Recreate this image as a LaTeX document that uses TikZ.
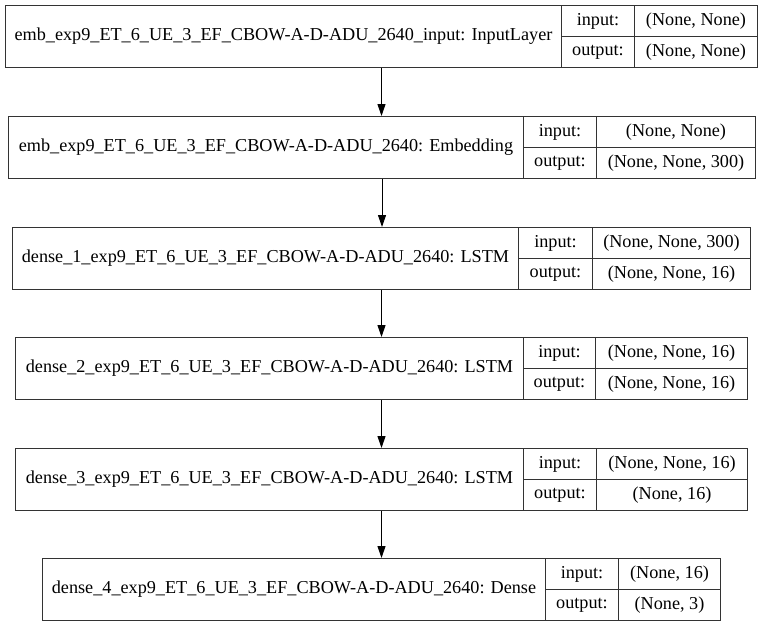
\documentclass[tikz,border=0pt]{standalone}
\usepackage{fontspec}
\setmainfont{Liberation Serif}
\usetikzlibrary{arrows.meta}
\definecolor{edge}{HTML}{333333}
\tikzset{
  frame/.style={draw=edge, line width=1pt, inner sep=0pt, anchor=north west},
  cell/.style={draw=edge, line width=1pt, inner sep=0pt, anchor=north west,
    font=\fontsize{18.2pt}{20pt}\selectfont, text=black},
  flow/.style={draw=black, line width=1pt, -{Triangle[length=12pt,width=8pt]}},
}
% one layer row: name, left, divider 1, divider 2, right, top, title, input shape, output shape
\newcommand\layer[9]{%
  \pgfmathsetmacro\wa{#3-#2}%
  \pgfmathsetmacro\wb{#4-#3}%
  \pgfmathsetmacro\wc{#5-#4}%
  \pgfmathsetmacro\wall{#5-#2}%
  \pgfmathsetmacro\ymid{#6+31}%
  \node[frame, minimum width=\wall pt, minimum height=62pt] (#1) at (#2pt,-#6pt) {};
  \node[cell, minimum width=\wa pt, minimum height=62pt] (#1-name) at (#2pt,-#6pt) {#7};
  \node[cell, minimum width=\wb pt, minimum height=31pt] (#1-inl) at (#3pt,-#6pt) {input:};
  \node[cell, minimum width=\wc pt, minimum height=31pt] (#1-inv) at (#4pt,-#6pt) {#8};
  \node[cell, minimum width=\wb pt, minimum height=31pt] (#1-outl) at (#3pt,-\ymid pt) {output:};
  \node[cell, minimum width=\wc pt, minimum height=31pt] (#1-outv) at (#4pt,-\ymid pt) {#9};
}
\begin{document}
\begin{tikzpicture}
\useasboundingbox[fill=white] (0pt,0pt) rectangle (763pt,-627pt);
\layer{L1}{5}{561}{634}{757}{5}{emb\_exp9\_ET\_6\_UE\_3\_EF\_CBOW-A-D-ADU\_2640\_input: InputLayer}{(None, None)}{(None, None)}
\layer{L2}{8}{523}{596}{755}{116}{emb\_exp9\_ET\_6\_UE\_3\_EF\_CBOW-A-D-ADU\_2640: Embedding}{(None, None)}{(None, None, 300)}
\layer{L3}{12}{518}{592}{750}{227}{dense\_1\_exp9\_ET\_6\_UE\_3\_EF\_CBOW-A-D-ADU\_2640: LSTM}{(None, None, 300)}{(None, None, 16)}
\layer{L4}{15}{523}{595}{747}{337}{dense\_2\_exp9\_ET\_6\_UE\_3\_EF\_CBOW-A-D-ADU\_2640: LSTM}{(None, None, 16)}{(None, None, 16)}
\layer{L5}{15}{523}{596}{747}{448}{dense\_3\_exp9\_ET\_6\_UE\_3\_EF\_CBOW-A-D-ADU\_2640: LSTM}{(None, None, 16)}{(None, 16)}
\layer{L6}{42}{545}{618}{720}{558}{dense\_4\_exp9\_ET\_6\_UE\_3\_EF\_CBOW-A-D-ADU\_2640: Dense}{(None, 16)}{(None, 3)}
\foreach \a/\b in {L1/L2, L2/L3, L3/L4, L4/L5, L5/L6}
  \draw[flow] (\a.south) -- (\a.south |- \b.north);
\end{tikzpicture}
\end{document}
